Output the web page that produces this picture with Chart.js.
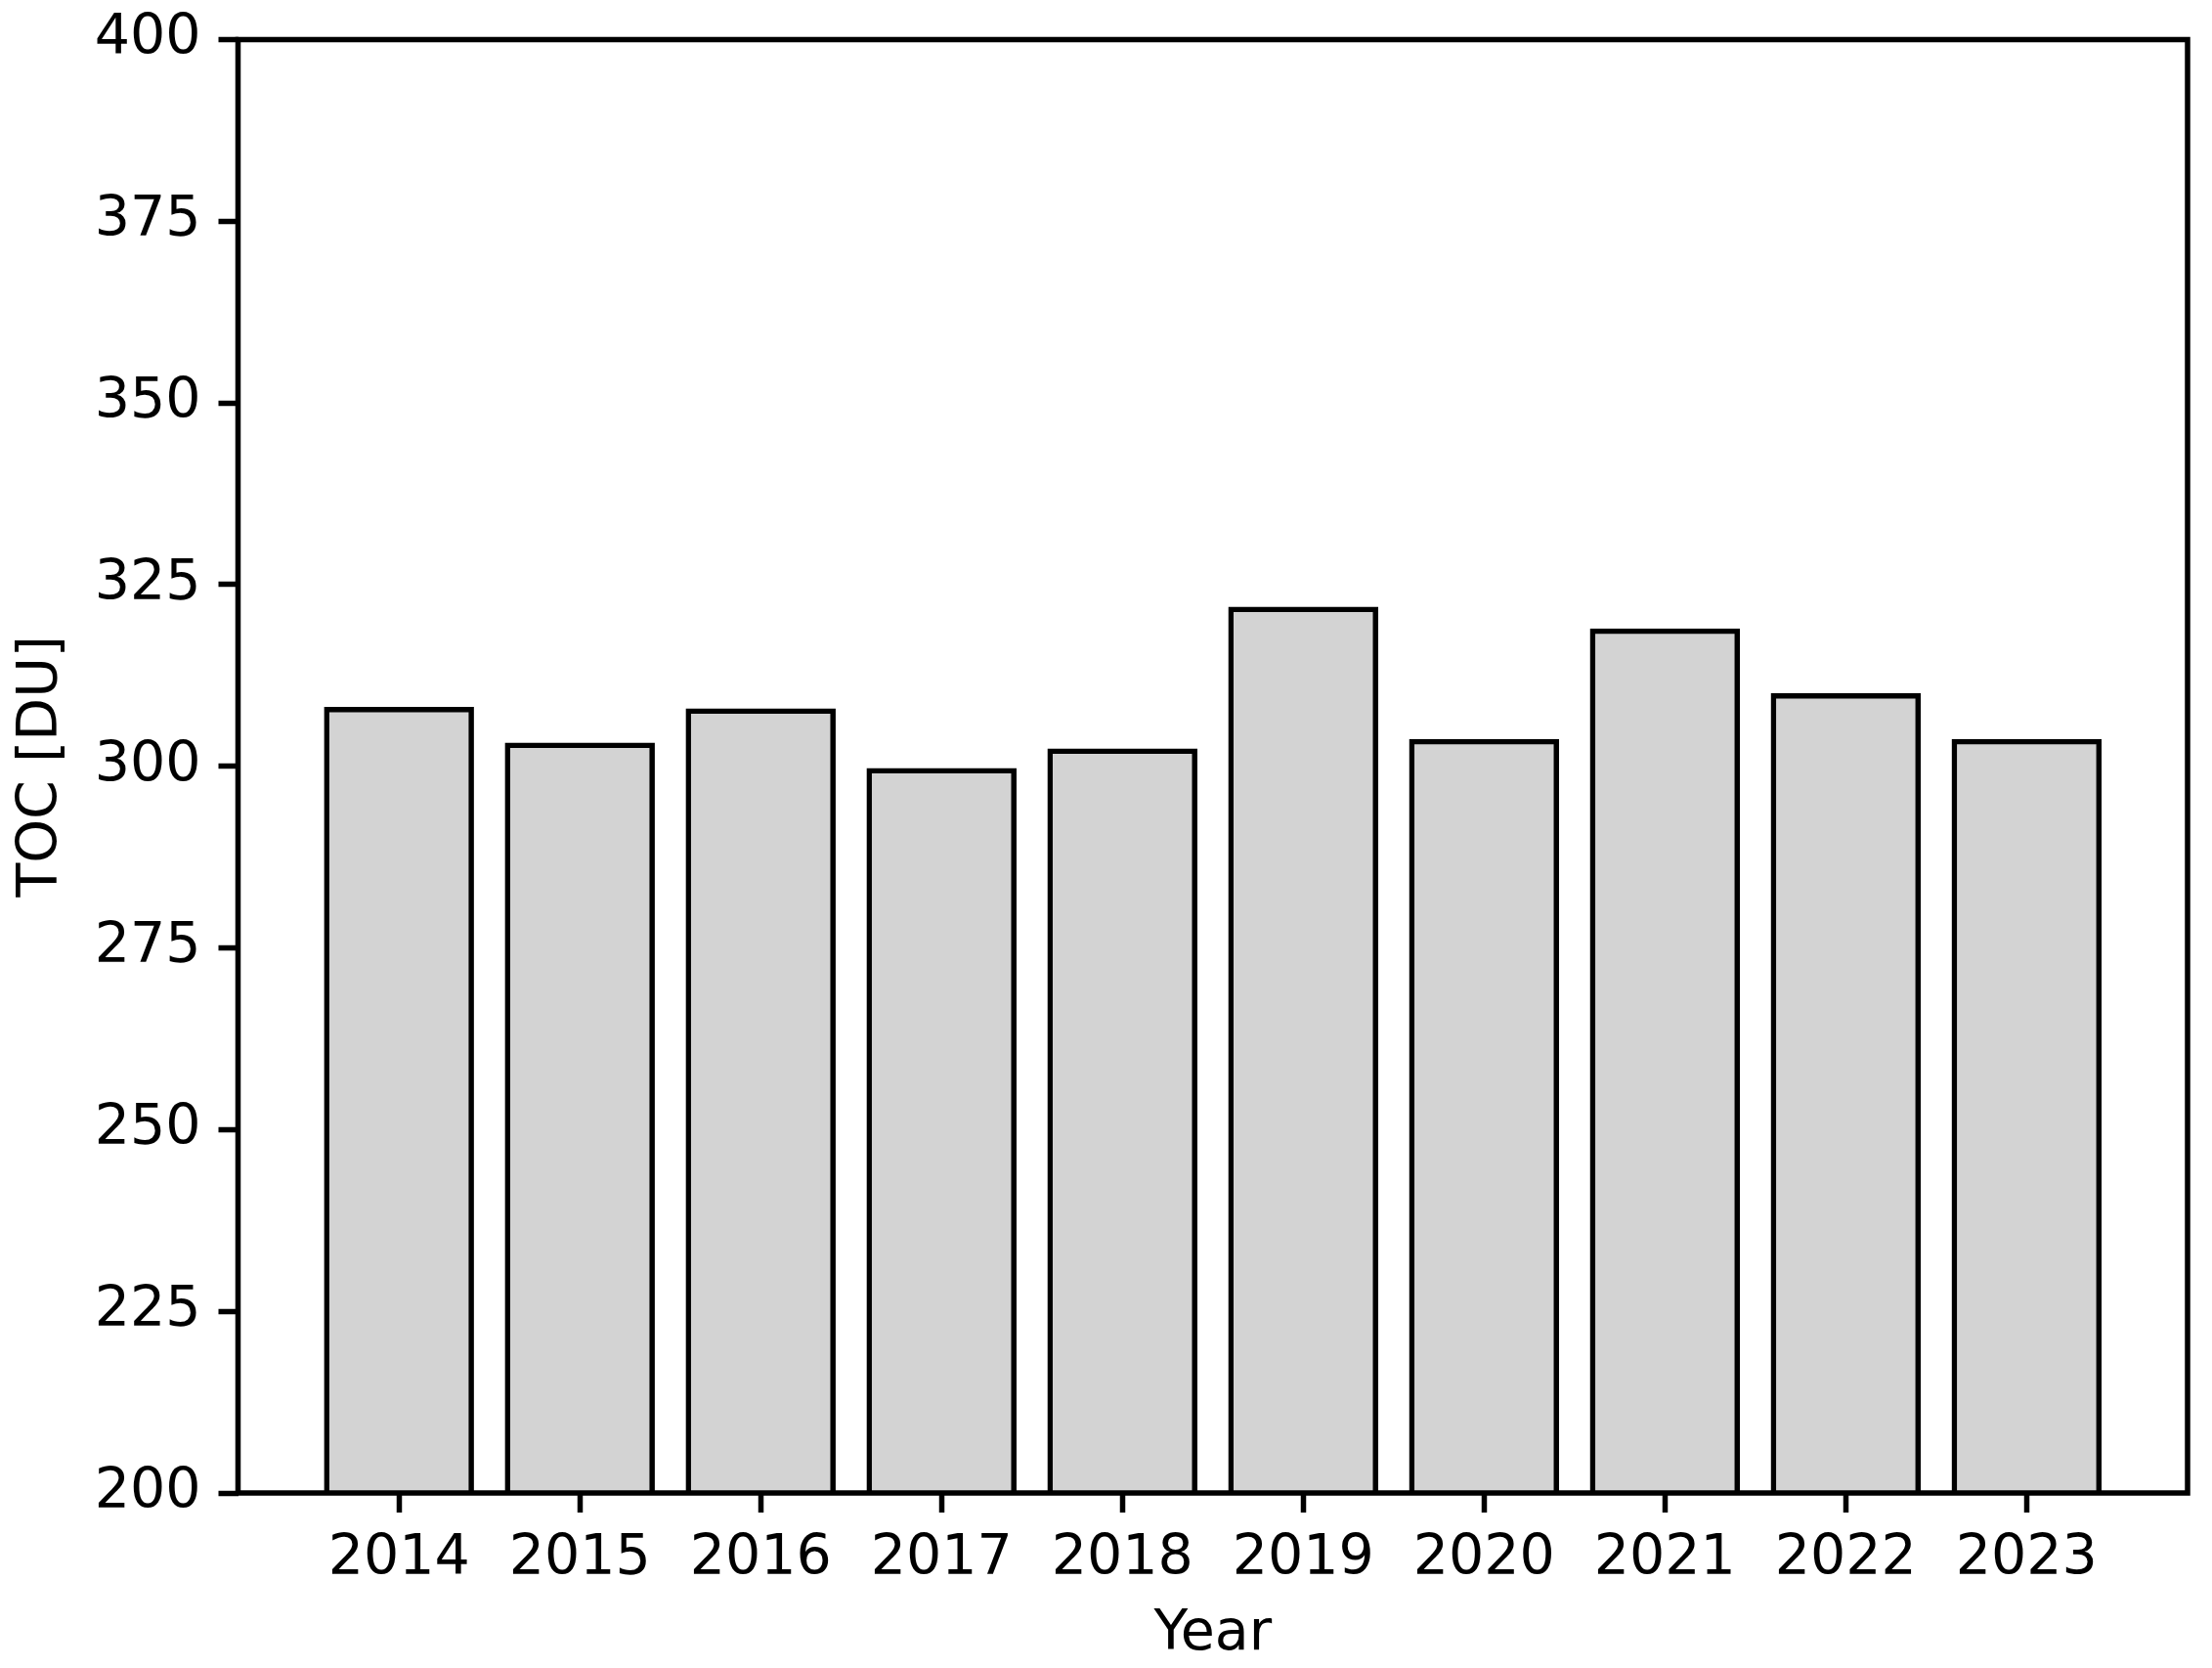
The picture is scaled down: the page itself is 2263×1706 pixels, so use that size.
<!DOCTYPE html>
<html>
<head>
<meta charset="utf-8">
<script src="https://cdn.jsdelivr.net/npm/chart.js@4/dist/chart.umd.min.js"></script>
<style>
  body { margin: 0; background: #fff; }
  #wrap { width: 2263px; height: 1706px; }
</style>
</head>
<body>
<div id="wrap"><canvas id="tocChart" width="2263" height="1706"></canvas></div>
<script>
// values
var years = ['2014', '2015', '2016', '2017', '2018', '2019', '2020', '2021', '2022', '2023'];
var tocValues = [307.8, 302.9, 307.6, 299.4, 302.1, 321.6, 303.4, 318.6, 309.7, 303.4];
var yTicks = [200, 225, 250, 275, 300, 325, 350, 375, 400];

var FONT = "'DejaVu Sans', sans-serif";
var FSIZE = 57;
var LINE = 5.5;

// axes frame on top of the bars, like matplotlib spines
var framePlugin = {
    id: 'frame',
    afterDatasetsDraw: function(chart) {
        var a = chart.chartArea;
        var ctx = chart.ctx;
        ctx.save();
        ctx.strokeStyle = '#000';
        ctx.lineWidth = LINE;
        ctx.strokeRect(a.left, a.top, a.right - a.left, a.bottom - a.top);
        ctx.restore();
    }
};

var ctx = document.getElementById('tocChart').getContext('2d');
var tocChart = new Chart(ctx, {
    type: 'bar',
    data: {
        datasets: [{
            label: 'TOC',
            data: tocValues.map(function(v, i) { return { x: i, y: v }; }),
            backgroundColor: '#d3d3d3',
            borderColor: '#000',
            borderWidth: LINE,
            borderSkipped: false,
            // centre the outline on the bar edge, as matplotlib does
            inflateAmount: LINE / 2,
            categoryPercentage: 1.0,
            barPercentage: 0.8
        }]
    },
    plugins: [framePlugin],
    options: {
        responsive: false,
        animation: false,
        devicePixelRatio: 1,
        layout: { padding: { top: 40.5, right: 25, bottom: 0, left: 0 } },
        plugins: {
            legend: { display: false },
            tooltip: { enabled: false }
        },
        scales: {
            x: {
                type: 'linear',
                offset: false,
                min: -0.89,
                max: years.length - 1 + 0.89,
                afterBuildTicks: function(scale) {
                    scale.ticks = years.map(function(y, i) { return { value: i }; });
                },
                afterFit: function(scale) {
                    scale.height = 179;
                    scale.paddingLeft = 0;
                    scale.paddingRight = 0;
                },
                border: { display: false },
                grid: {
                    offset: false,
                    drawOnChartArea: false,
                    drawTicks: true,
                    tickLength: 20,
                    tickWidth: LINE,
                    tickColor: '#000'
                },
                ticks: {
                    autoSkip: false,
                    maxRotation: 0,
                    padding: 14,
                    color: '#000',
                    font: { family: FONT, size: FSIZE },
                    callback: function(value) { return years[value]; }
                },
                title: {
                    display: true,
                    text: 'Year',
                    color: '#000',
                    font: { family: FONT, size: FSIZE },
                    padding: { top: 4, bottom: 0 }
                }
            },
            y: {
                min: yTicks[0],
                max: yTicks[yTicks.length - 1],
                afterBuildTicks: function(scale) {
                    scale.ticks = yTicks.map(function(v) { return { value: v }; });
                },
                afterFit: function(scale) {
                    scale.width = 243.5;
                    scale.paddingTop = 0;
                    scale.paddingBottom = 0;
                },
                border: { display: false },
                grid: {
                    drawOnChartArea: false,
                    drawTicks: true,
                    tickLength: 20,
                    tickWidth: LINE,
                    tickColor: '#000'
                },
                ticks: {
                    padding: 18,
                    color: '#000',
                    font: { family: FONT, size: FSIZE }
                },
                title: {
                    display: true,
                    text: 'TOC [DU]',
                    color: '#000',
                    font: { family: FONT, size: FSIZE },
                    padding: { top: 9, bottom: 4 }
                }
            }
        }
    }
});
</script>
</body>
</html>
